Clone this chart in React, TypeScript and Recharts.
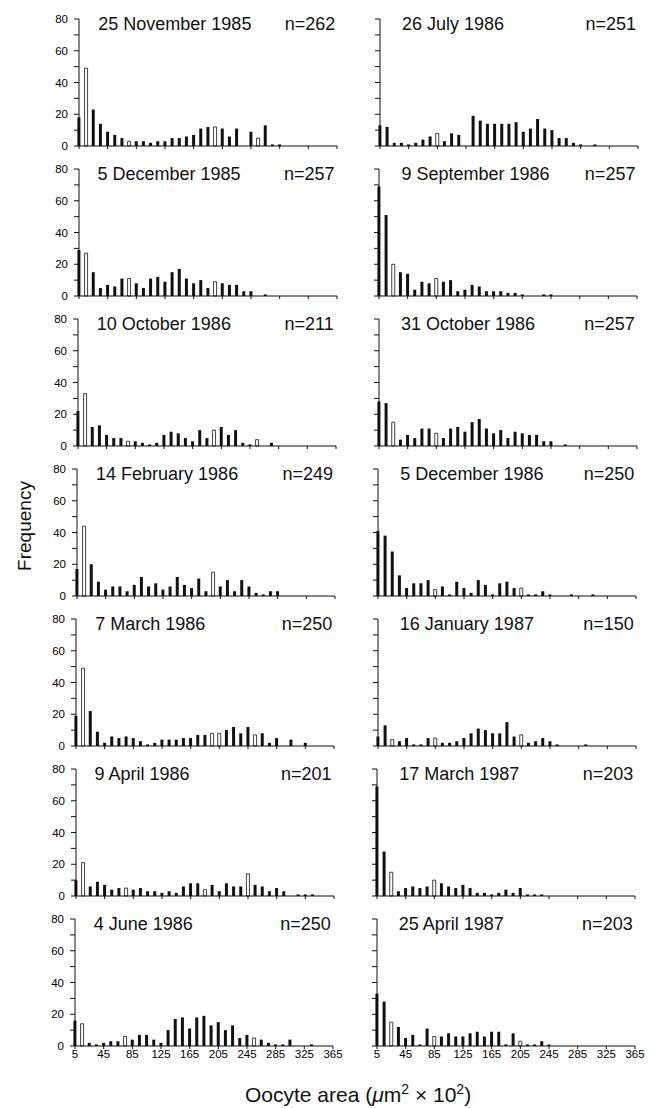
import React from "react";
import { BarChart, Bar, XAxis, YAxis, Cell } from "recharts";

// Bin centres of the oocyte-area classes (µm² × 10²)
const BINS = [
  5, 15, 25, 35, 45, 55, 65, 75, 85, 95, 105, 115, 125, 135, 145, 155, 165, 175,
  185, 195, 205, 215, 225, 235, 245, 255, 265, 275, 285, 295, 305, 315, 325, 335, 345, 355,
];
const X_TICKS = [5, 45, 85, 125, 165, 205, 245, 285, 325, 365];
const Y_TICKS = [0, 10, 20, 30, 40, 50, 60, 70, 80];
const Y_LABELS = [0, 20, 40, 60, 80];

// Frequencies per sampling date, one value per bin starting at 5
const nov85 = [18, 49, 23, 14, 9, 7, 5, 3, 3, 3, 2, 3, 3, 5, 5, 6, 7, 11, 12, 12, 11, 6, 11, 0, 9, 5, 13, 1, 1];
const jul86 = [13, 12, 2, 2, 1, 2, 4, 6, 8, 3, 8, 7, 0, 19, 16, 14, 14, 14, 14, 15, 9, 11, 17, 11, 10, 5, 5, 2, 1, 0, 1];
const dec85 = [29, 27, 15, 5, 7, 6, 11, 11, 8, 5, 11, 12, 9, 15, 17, 11, 8, 10, 5, 9, 8, 7, 7, 3, 3, 0, 1];
const sep86 = [69, 51, 20, 15, 14, 4, 9, 8, 11, 9, 10, 3, 4, 7, 6, 3, 3, 3, 2, 2, 1, 0, 0, 1, 1];
const oct10_86 = [22, 33, 12, 13, 7, 5, 5, 3, 3, 2, 1, 2, 7, 9, 8, 5, 3, 10, 5, 10, 12, 7, 10, 2, 1, 4, 0, 2];
const oct31_86 = [28, 27, 15, 4, 7, 5, 11, 11, 8, 5, 11, 12, 9, 15, 17, 11, 8, 10, 5, 9, 8, 7, 7, 3, 3, 0, 1];
const feb86 = [17, 44, 20, 9, 4, 6, 6, 3, 7, 12, 6, 8, 4, 6, 12, 7, 5, 11, 3, 15, 6, 10, 3, 10, 6, 2, 1, 3, 3];
const dec86 = [41, 38, 28, 13, 5, 8, 8, 10, 4, 6, 1, 9, 5, 2, 10, 7, 1, 8, 9, 5, 5, 1, 1, 3, 1, 0, 0, 1, 0, 0, 1];
const mar86 = [19, 49, 22, 9, 2, 6, 5, 6, 5, 3, 1, 2, 4, 4, 4, 5, 5, 7, 7, 8, 8, 10, 12, 8, 12, 7, 8, 2, 5, 0, 4, 0, 2];
const jan87 = [6, 13, 4, 3, 5, 1, 1, 5, 5, 2, 2, 3, 5, 8, 11, 10, 8, 8, 15, 6, 7, 2, 3, 5, 3, 1, 0, 0, 0, 1];
const apr86 = [10, 21, 6, 9, 7, 4, 5, 5, 4, 5, 3, 3, 2, 3, 2, 6, 8, 8, 4, 7, 3, 8, 6, 6, 14, 7, 6, 3, 5, 3, 0, 1, 1, 1];
const mar87 = [69, 28, 15, 3, 5, 6, 5, 6, 10, 8, 6, 5, 7, 5, 2, 2, 1, 2, 4, 2, 5, 1, 1, 1];
const jun86 = [16, 14, 2, 1, 2, 3, 3, 6, 4, 7, 7, 4, 2, 10, 17, 18, 11, 18, 19, 13, 15, 10, 13, 5, 7, 5, 4, 2, 1, 1, 4, 0, 0, 1];
const apr87 = [33, 28, 15, 12, 5, 7, 1, 11, 6, 6, 8, 6, 6, 8, 9, 6, 9, 9, 1, 8, 3, 1, 1, 3, 1];

// Bins printed as open (outlined) bars
const openLeft = [15, 75, 195, 255];
const openRight = [25, 85, 205];

type Panel = { title: string; n: number; counts: number[]; open: number[] };

const ROWS: Panel[][] = [
  [
    { title: "25 November 1985", n: 262, counts: nov85, open: openLeft },
    { title: "26 July 1986", n: 251, counts: jul86, open: [85] },
  ],
  [
    { title: "5 December 1985", n: 257, counts: dec85, open: [15, 75, 195] },
    { title: "9 September 1986", n: 257, counts: sep86, open: [25, 85] },
  ],
  [
    { title: "10 October 1986", n: 211, counts: oct10_86, open: openLeft },
    { title: "31 October 1986", n: 257, counts: oct31_86, open: [25, 85] },
  ],
  [
    { title: "14 February 1986", n: 249, counts: feb86, open: [15, 195] },
    { title: "5 December 1986", n: 250, counts: dec86, open: [85, 205] },
  ],
  [
    { title: "7 March 1986", n: 250, counts: mar86, open: [15, 195, 205, 255] },
    { title: "16 January 1987", n: 150, counts: jan87, open: openRight },
  ],
  [
    { title: "9 April 1986", n: 201, counts: apr86, open: [15, 75, 185, 245] },
    { title: "17 March 1987", n: 203, counts: mar87, open: [25, 85] },
  ],
  [
    { title: "4 June 1986", n: 250, counts: jun86, open: [15, 75, 255] },
    { title: "25 April 1987", n: 203, counts: apr87, open: openRight },
  ],
];

const FONT = '"Liberation Sans", Arial, Helvetica, sans-serif';
const INK = "#111";

// plot box geometry (px)
const PLOT_W = 258;
const PLOT_H = 127;
const Y_AXIS_W = 30;
const X_AXIS_H = 22;
const TOP_PAD = 10;
const RIGHT_PAD = 14;

// the scanned page is a touch skewed, so each row drifts left slightly
const zeroY = (row: number) => 145.7 + 150.05 * row;
const axisX = (row: number, col: number) => (col === 0 ? 79.3 - 0.75 * row : 380 - 0.55 * row);

function Histogram({ panel, left, zero, showY, showX }: {
  panel: Panel; left: number; zero: number; showY: boolean; showX: boolean;
}) {
  const data = panel.counts.map((c, i) => ({ x: BINS[i], count: c }));
  const tickStyle = { fill: "#000", fontSize: 11.5, fontFamily: FONT };
  return (
    <div style={{ position: "absolute", left: left - Y_AXIS_W, top: zero - PLOT_H - TOP_PAD }}>
      <BarChart
        width={Y_AXIS_W + PLOT_W + RIGHT_PAD}
        height={TOP_PAD + PLOT_H + X_AXIS_H}
        data={data}
        margin={{ top: TOP_PAD, right: RIGHT_PAD, bottom: 0, left: 0 }}
      >
        <XAxis
          type="number"
          dataKey="x"
          domain={[5, 365]}
          ticks={X_TICKS}
          interval={0}
          height={X_AXIS_H}
          tickSize={3}
          tickMargin={1}
          stroke={INK}
          tick={tickStyle}
          tickFormatter={(v) => (showX ? String(v) : "")}
        />
        <YAxis
          type="number"
          domain={[0, 80]}
          ticks={Y_TICKS}
          interval={0}
          width={Y_AXIS_W}
          tickSize={5}
          tickMargin={6}
          stroke={INK}
          tick={tickStyle}
          tickFormatter={(v) => (showY && Y_LABELS.includes(v) ? String(v) : "")}
        />
        <Bar dataKey="count" barSize={3} isAnimationActive={false}>
          {data.map((d) => {
            const hollow = panel.open.includes(d.x);
            return (
              <Cell
                key={d.x}
                fill={hollow ? "#fff" : INK}
                stroke={hollow ? INK : "none"}
                strokeWidth={hollow ? 0.8 : 0}
              />
            );
          })}
        </Bar>
      </BarChart>
    </div>
  );
}

export default function App() {
  return (
    <div
      style={{
        position: "absolute", left: 0, top: 0, width: 651, height: 1108,
        background: "#fff", fontFamily: FONT, overflow: "hidden",
      }}
    >
      {ROWS.map((row, r) =>
        row.map((panel, c) => (
          <Histogram
            key={panel.title}
            panel={panel}
            left={axisX(r, c)}
            zero={zeroY(r)}
            showY={c === 0}
            showX={r === ROWS.length - 1}
          />
        ))
      )}

      <svg width={651} height={1108} style={{ position: "absolute", left: 0, top: 0, pointerEvents: "none" }}>
        {ROWS.map((row, r) =>
          row.map((panel, c) => {
            const x0 = axisX(r, c);
            const base = zeroY(r) - 116;
            return (
              <g key={panel.title} fontFamily={FONT} fontSize={18} fill={INK}>
                <text x={x0 + (c === 0 ? 19 : 22)} y={base}>{panel.title}</text>
                <text x={x0 + 256} y={base} textAnchor="end">n={panel.n}</text>
              </g>
            );
          })
        )}

        <text
          transform="translate(31 526) rotate(-90)"
          textAnchor="middle"
          fontFamily={FONT}
          fontSize={19}
          fill={INK}
        >
          Frequency
        </text>

        <text x={245} y={1102} fontFamily={FONT} fontSize={21} fill={INK}>
          Oocyte area (<tspan fontStyle="italic">μ</tspan>m
          <tspan dy={-8} fontSize={14}>2</tspan>
          <tspan dy={8}> × 10</tspan>
          <tspan dy={-8} fontSize={14}>2</tspan>
          <tspan dy={8}>)</tspan>
        </text>
      </svg>
    </div>
  );
}
